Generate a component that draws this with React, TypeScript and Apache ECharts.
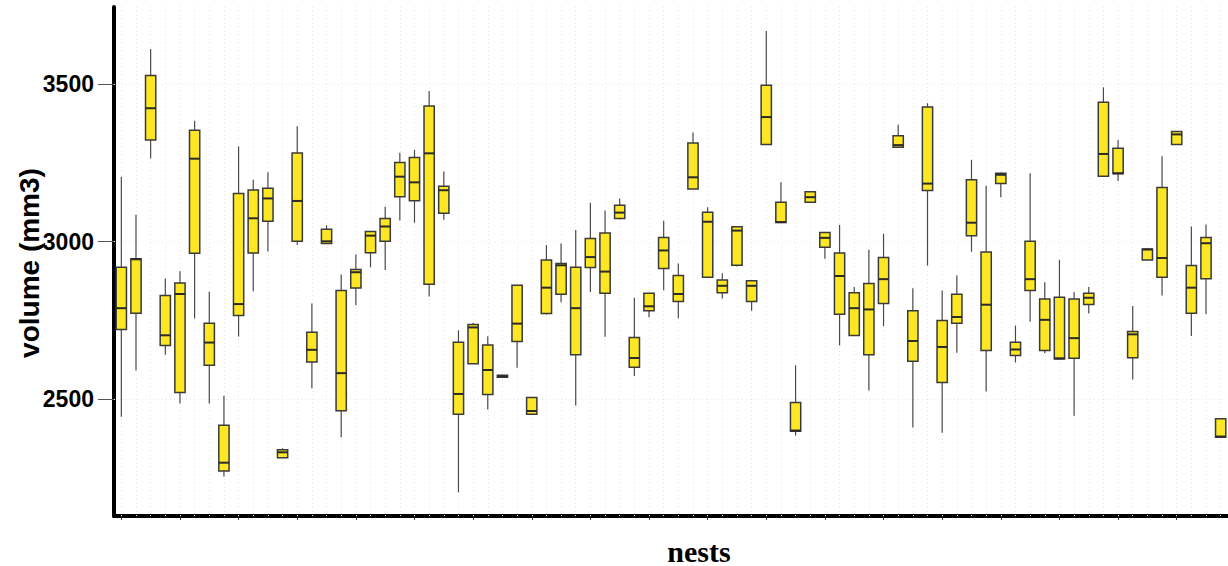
import React, { useEffect, useRef } from "react";
import * as echarts from "echarts";

const categories: string[] = Array.from({ length: 76 }, (_, i) => `Nest ${i + 1}`);

const mins = [
  2445, 2591, 3264, 2641, 2487, 2756, 2487, 2255, 2699, 2843, 2969, 2315, 2989, 2535, 2994, 2380, 2798, 2919, 2910,
  3067, 3060, 2826, 3069, 2205, 2613, 2468, 2570, 2600, 2453, 2769, 2808, 2480, 2840, 2698, 3071, 2574, 2760, 2846,
  2757, 3167, 2887, 2820, 2921, 2781, 3308, 3061, 2385, 3125, 2946, 2671, 2702, 2528, 2732, 3299, 2411, 2924, 2394,
  2648, 2968, 2525, 3141, 2617, 2746, 2646, 2628, 2448, 2772, 3207, 3192, 2563, 2942, 2829, 3308, 2701, 2770, 2380,
];
const q1s = [
  2721, 2773, 3322, 2671, 2522, 2963, 2608, 2273, 2766, 2964, 3065, 2315, 3001, 2618, 2994, 2464, 2853, 2965, 3001,
  3142, 3130, 2865, 3090, 2453, 2613, 2515, 2570, 2683, 2453, 2772, 2833, 2641, 2918, 2836, 3073, 2602, 2781, 2915,
  2810, 3167, 2887, 2838, 2925, 2810, 3308, 3061, 2399, 3125, 2982, 2770, 2702, 2641, 2804, 3299, 2621, 3162, 2553,
  2741, 3019, 2655, 3184, 2639, 2845, 2655, 2628, 2630, 2801, 3207, 3215, 2632, 2942, 2887, 3308, 2773, 2882, 2380,
];
const medians = [
  2789, 2944, 3423, 2703, 2834, 3263, 2680, 2299, 2802, 3074, 3137, 2332, 3129, 2657, 3001, 2583, 2903, 3019, 3048,
  3206, 3188, 3280, 3163, 2517, 2728, 2593, 2573, 2740, 2463, 2854, 2925, 2789, 2951, 2905, 3092, 2631, 2795, 2972,
  2834, 3204, 3063, 2860, 3035, 2860, 3395, 3062, 2401, 3141, 3012, 2891, 2789, 2785, 2881, 3306, 2685, 3184, 2666,
  2761, 3060, 2800, 3212, 2658, 2881, 2752, 2630, 2694, 2822, 3278, 3217, 2706, 2975, 2948, 3340, 2854, 2995, 2382,
];
const q3s = [
  2919, 2946, 3527, 2829, 2869, 3353, 2741, 2418, 3153, 3164, 3169, 2340, 3281, 2713, 3039, 2845, 2912, 3032, 3073,
  3251, 3267, 3430, 3176, 2681, 2737, 2672, 2576, 2862, 2506, 2942, 2931, 2919, 3010, 3027, 3115, 2696, 2836, 3013,
  2893, 3313, 3093, 2878, 3047, 2876, 3496, 3125, 2490, 3158, 3029, 2964, 2838, 2867, 2950, 3336, 2781, 3427, 2750,
  2833, 3196, 2967, 3217, 2681, 3001, 2818, 2824, 2818, 2836, 3442, 3296, 2715, 2977, 3172, 3349, 2924, 3013, 2438,
];
const maxs = [
  3206, 3085, 3611, 2883, 2906, 3383, 2841, 2511, 3302, 3196, 3220, 2345, 3366, 2804, 3052, 2896, 2959, 3032, 3111,
  3282, 3291, 3478, 3222, 2719, 2743, 2700, 2578, 2862, 2506, 2989, 2994, 3037, 3123, 3099, 3137, 2822, 2836, 3066,
  2931, 3346, 3109, 2900, 3047, 2878, 3668, 3188, 2608, 3160, 3030, 3053, 2856, 2974, 3025, 3371, 2852, 3439, 2845,
  2893, 3259, 3177, 3219, 2734, 3217, 2871, 2942, 2840, 2856, 3489, 3322, 2796, 2978, 3271, 3350, 3048, 3054, 2438,
];

const yTicks = [2500, 3000, 3500];
const xTitle = "nests";
const yTitle = "volume (mm3)";

export default function App() {
  const ref = useRef<HTMLDivElement>(null);

  useEffect(() => {
    if (!ref.current) return;
    const chart = echarts.init(ref.current, null, { renderer: "svg" });
    const rows = categories.map((_, i) => [i, mins[i], q1s[i], medians[i], q3s[i], maxs[i]]);

    const option: any = {
      animation: false,
      backgroundColor: "#ffffff",
      grid: { left: 114, right: 0, top: 7, bottom: 50, containLabel: false, outerBoundsMode: "none" },
      xAxis: {
        type: "category",
        data: categories,
        boundaryGap: true,
        axisLine: { show: true, lineStyle: { color: "#000", width: 4 } },
        axisTick: { show: true, alignWithLabel: true, length: 4, lineStyle: { color: "#333", width: 1 } },
        axisLabel: { show: false },
        splitLine: { show: false },
      },
      yAxis: {
        type: "value",
        min: 2130,
        max: 3744,
        axisLine: { show: true, lineStyle: { color: "#000", width: 4 } },
        axisTick: { show: true, length: 16, customValues: yTicks, lineStyle: { color: "#555", width: 1 } },
        axisLabel: {
          customValues: yTicks,
          formatter: (v: number) => String(Math.round(v)),
          margin: 20,
          color: "#000",
          fontSize: 23,
          fontWeight: "bold",
          fontFamily: "Liberation Sans, Arial, sans-serif",
        },
        splitLine: { show: false },
      },
      series: [
        {
          type: "custom",
          z: 2,
          data: rows,
          encode: { x: 0, y: [1, 2, 3, 4, 5] },
          renderItem: (params: any, api: any) => {
            const i = api.value(0);
            const pMin = api.coord([i, api.value(1)]);
            const pQ1 = api.coord([i, api.value(2)]);
            const pMed = api.coord([i, api.value(3)]);
            const pQ3 = api.coord([i, api.value(4)]);
            const pMax = api.coord([i, api.value(5)]);
            const band = api.size([1, 0])[0];
            const w = band * 0.7;
            const cx = pMed[0];
            return {
              type: "group",
              children: [
                {
                  type: "line",
                  shape: { x1: cx, y1: pMax[1], x2: cx, y2: pQ3[1] },
                  style: { stroke: "#4a4a4a", lineWidth: 1.2 },
                },
                {
                  type: "line",
                  shape: { x1: cx, y1: pQ1[1], x2: cx, y2: pMin[1] },
                  style: { stroke: "#4a4a4a", lineWidth: 1.2 },
                },
                {
                  type: "rect",
                  shape: { x: cx - w / 2, y: pQ3[1], width: w, height: Math.max(pQ1[1] - pQ3[1], 1.5) },
                  style: { fill: "#FDE725", stroke: "#3a3a3a", lineWidth: 1.5 },
                },
                {
                  type: "line",
                  shape: { x1: cx - w / 2, y1: pMed[1], x2: cx + w / 2, y2: pMed[1] },
                  style: { stroke: "#2a2a2a", lineWidth: 2 },
                },
              ],
            };
          },
          markLine: {
            silent: true,
            z: 1,
            symbol: "none",
            label: { show: false },
            emphasis: { disabled: true },
            lineStyle: { type: [1, 3], color: "#e6e6e6", width: 1 },
            data: [
              ...categories.map((_, i) => ({ xAxis: i })),
              ...yTicks.map((v) => ({ yAxis: v })),
            ],
          },
        },
      ],
      graphic: [
        {
          type: "text",
          x: 29,
          y: 263,
          rotation: Math.PI / 2,
          style: {
            text: yTitle,
            fill: "#000",
            font: "bold 28px 'Liberation Sans', Arial, sans-serif",
            align: "center",
            verticalAlign: "middle",
          },
        },
        {
          type: "text",
          x: 699,
          y: 551,
          style: {
            text: xTitle,
            fill: "#000",
            font: "bold 30px 'Liberation Serif', 'Times New Roman', serif",
            align: "center",
            verticalAlign: "middle",
          },
        },
      ],
    };

    chart.setOption(option);
    return () => chart.dispose();
  }, []);

  return (
    <div
      ref={ref}
      style={{ position: "fixed", left: 0, top: 0, width: 1228, height: 566, background: "#fff" }}
    />
  );
}
